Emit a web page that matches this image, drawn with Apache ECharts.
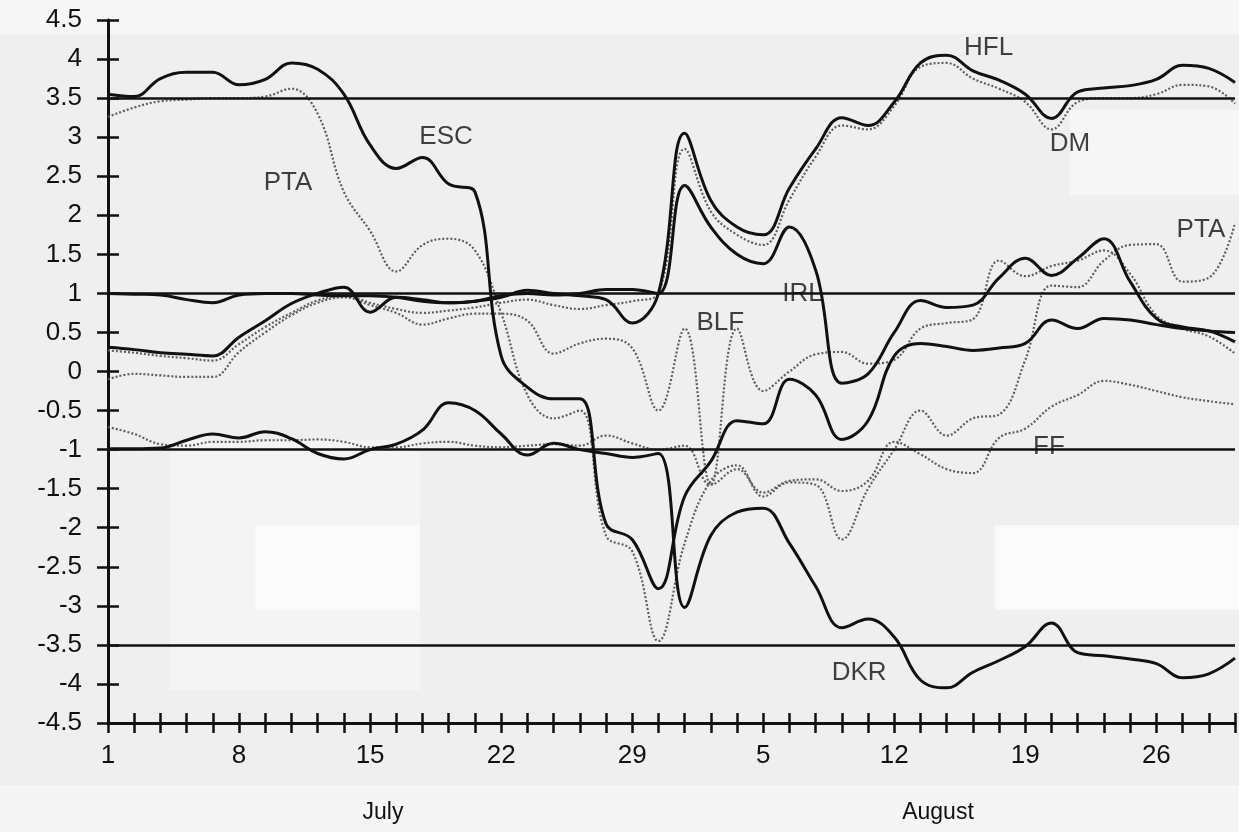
<!DOCTYPE html>
<html>
<head>
<meta charset="utf-8">
<title>Divergence, July - August</title>
<script src="https://cdn.jsdelivr.net/npm/echarts@6/dist/echarts.min.js"></script>
<style>
html, body { margin: 0; padding: 0; background: #efefef; }
#chart { width: 1239px; height: 832px; }
</style>
</head>
<body>
<div id="chart"></div>
<script>
// x axis = trading days (0 = 1 July), labels on Mondays only
const weekLabels = ['1', '8', '15', '22', '29', '5', '12', '19', '26']
const months = ['July', 'August']
const refLevels = [3.5, 1, -1, -3.5]

// solid lines
const esc = [3.55, 3.52, 3.75, 3.83, 3.83, 3.67, 3.74, 3.95, 3.87, 3.55,
    2.9, 2.6, 2.74, 2.4, 2.3, 0.2, -0.2, -0.35, -0.35, -1.95,
    -2.15, -2.78, -1.6, -1.15, -0.63, -0.67, -0.1, -0.3, -0.87, -0.63,
    0.2, 0.36, 0.32, 0.27, 0.3, 0.36, 0.66, 0.55, 0.68, 0.66,
    0.6, 0.55, 0.52, 0.5]
const hfl = [0.31, 0.28, 0.24, 0.22, 0.2, 0.44, 0.65, 0.87, 1.0, 1.08,
    0.76, 0.95, 0.92, 0.88, 0.9, 0.95, 1.04, 1.0, 0.97, 0.92,
    0.62, 1.0, 3.05, 2.19, 1.85, 1.75, 2.35, 2.85, 3.25, 3.15,
    3.45, 3.95, 4.05, 3.85, 3.73, 3.55, 3.24, 3.58, 3.63, 3.66,
    3.74, 3.92, 3.88, 3.7]
const irl = [1.0, 0.99, 0.98, 0.92, 0.88, 0.98, 1.0, 1.0, 0.98, 0.97,
    0.97, 0.95, 0.9, 0.88, 0.9, 0.97, 1.0, 0.98, 1.0, 1.05,
    1.05, 1.0, 2.38, 1.85, 1.5, 1.38, 1.85, 1.3, -0.15, -0.03,
    0.5, 0.91, 0.82, 0.85, 1.2, 1.45, 1.23, 1.45, 1.7, 1.15,
    0.68, 0.57, 0.52, 0.38]
const dkr = [-0.99, -0.99, -0.98, -0.88, -0.8, -0.85, -0.77, -0.86, -1.05, -1.12,
    -1.0, -0.93, -0.75, -0.4, -0.5, -0.8, -1.07, -0.92, -1.0, -1.05,
    -1.1, -1.05, -3.02, -2.1, -1.8, -1.75, -2.2, -2.75, -3.28, -3.17,
    -3.4, -3.95, -4.05, -3.85, -3.7, -3.52, -3.22, -3.6, -3.64, -3.68,
    -3.74, -3.92, -3.87, -3.67]

// dotted lines
const pta = [3.26, 3.38, 3.46, 3.48, 3.5, 3.5, 3.52, 3.62, 3.3, 2.3,
    1.8, 1.28, 1.62, 1.7, 1.55, 0.75, -0.3, -0.6, -0.5, -2.1,
    -2.3, -3.45, -2.2, -1.4, -1.2, -1.6, -1.42, -1.45, -2.15, -1.5,
    -1.0, -0.5, -0.82, -0.6, -0.55, 0.15, 1.1, 1.08, 1.42, 1.62,
    1.63, 1.15, 1.2, 1.9]
const dm = [0.27, 0.24, 0.2, 0.17, 0.14, 0.35, 0.57, 0.75, 0.91, 0.97,
    0.88, 0.8, 0.75, 0.78, 0.82, 0.88, 0.92, 0.85, 0.8, 0.85,
    0.9, 1.0, 2.85, 2.05, 1.75, 1.62, 2.2, 2.75, 3.15, 3.1,
    3.4, 3.9, 3.95, 3.75, 3.62, 3.45, 3.1, 3.45, 3.5, 3.5,
    3.55, 3.67, 3.65, 3.43]
const blf = [-0.1, -0.03, -0.05, -0.07, -0.07, 0.25, 0.5, 0.72, 0.88, 0.95,
    0.85, 0.75, 0.6, 0.68, 0.74, 0.74, 0.65, 0.23, 0.36, 0.42,
    0.3, -0.5, 0.55, -1.45, 0.55, -0.25, 0.0, 0.22, 0.25, 0.1,
    0.15, 0.55, 0.62, 0.67, 1.42, 1.22, 1.35, 1.42, 1.55, 1.25,
    0.72, 0.55, 0.45, 0.23]
const ff = [-0.71, -0.8, -0.93, -0.95, -0.9, -0.9, -0.88, -0.88, -0.87, -0.9,
    -0.97, -0.97, -0.92, -0.9, -0.95, -0.97, -0.95, -0.93, -0.95, -0.82,
    -0.92, -1.0, -0.95, -1.45, -1.25, -1.55, -1.4, -1.38, -1.53, -1.4,
    -0.9, -1.06, -1.25, -1.3, -0.85, -0.73, -0.45, -0.3, -0.12, -0.17,
    -0.25, -0.33, -0.38, -0.42]

// curve names written on the plot: [text, day index, value]
const curveLabels = [
    ['HFL', 33.6, 4.15], ['ESC', 12.9, 3.01], ['PTA', 6.87, 2.41],
    ['DM', 36.7, 2.91], ['PTA', 41.7, 1.81], ['IRL', 26.5, 0.99],
    ['BLF', 23.36, 0.62], ['FF', 35.9, -0.97], ['DKR', 28.66, -3.86]
]

const FONT = 'Liberation Sans'
const INK = '#111'

const chart = echarts.init(document.getElementById('chart'))

function solid(name, values) {
    return {
        name: name,
        type: 'line',
        data: values.map((v, i) => [i, v]),
        smooth: 0.4,
        symbol: 'none',
        lineStyle: { color: INK, width: 3 },
        z: 3
    }
}

function dotted(name, values) {
    return {
        name: name,
        type: 'line',
        data: values.map((v, i) => [i, v]),
        smooth: 0.4,
        symbol: 'none',
        lineStyle: { color: '#5e5e5e', width: 2.2, type: [2, 2] },
        z: 2
    }
}

const lastDay = esc.length - 1

const xCommon = {
    type: 'value',
    min: 0,
    max: lastDay,
    interval: 1,
    position: 'bottom',
    offset: 0,
    splitLine: { show: false }
}
const yCommon = {
    type: 'value',
    min: -4.5,
    max: 4.5,
    interval: 0.5,
    position: 'left',
    offset: 0,
    splitLine: { show: false }
}

chart.setOption({
    animation: false,
    backgroundColor: '#efefef',
    grid: {
        left: 108,
        right: 4,
        top: 20,
        bottom: 109,
        containLabel: false,
        outerBoundsMode: 'none'
    },
    xAxis: [
        Object.assign({}, xCommon, {
            axisLine: { show: true, onZero: false, lineStyle: { color: INK, width: 3 } },
            axisTick: { show: true, length: 10, lineStyle: { color: INK, width: 2.5 } },
            axisLabel: {
                margin: 20,
                fontSize: 26,
                fontFamily: FONT,
                color: INK,
                formatter: function(v) {
                    return v % 5 === 0 ? (weekLabels[v / 5] || '') : ''
                }
            }
        }),
        Object.assign({}, xCommon, {
            axisLine: { show: false, onZero: false },
            axisTick: { show: true, inside: true, length: 10, lineStyle: { color: INK, width: 2.5 } },
            axisLabel: { show: false }
        })
    ],
    yAxis: [
        Object.assign({}, yCommon, {
            axisLine: { show: true, onZero: false, lineStyle: { color: INK, width: 3 } },
            axisTick: { show: true, length: 11, lineStyle: { color: INK, width: 2.5 } },
            axisLabel: { margin: 26, fontSize: 26, fontFamily: FONT, color: INK }
        }),
        Object.assign({}, yCommon, {
            axisLine: { show: false, onZero: false },
            axisTick: { show: true, inside: true, length: 11, lineStyle: { color: INK, width: 2.5 } },
            axisLabel: { show: false }
        })
    ],
    graphic: [
        // lighter patches of the scanned halftone background
        { type: 'rect', z: -10, shape: { x: 0, y: 0, width: 1239, height: 34 }, style: { fill: '#f6f6f6' } },
        { type: 'rect', z: -10, shape: { x: 170, y: 440, width: 250, height: 250 }, style: { fill: '#f4f4f4' } },
        { type: 'rect', z: -10, shape: { x: 255, y: 525, width: 165, height: 85 }, style: { fill: '#fafafa' } },
        { type: 'rect', z: -10, shape: { x: 995, y: 525, width: 244, height: 85 }, style: { fill: '#f9f9f9' } },
        { type: 'rect', z: -10, shape: { x: 1070, y: 110, width: 169, height: 85 }, style: { fill: '#f6f6f6' } },
        { type: 'rect', z: -10, shape: { x: 0, y: 785, width: 1239, height: 47 }, style: { fill: '#f5f5f5' } },
        {
            type: 'text', x: 383, y: 813,
            style: { text: months[0], font: '23px "' + FONT + '"', fill: INK, textAlign: 'center', textVerticalAlign: 'middle' }
        },
        {
            type: 'text', x: 938, y: 813,
            style: { text: months[1], font: '23px "' + FONT + '"', fill: INK, textAlign: 'center', textVerticalAlign: 'middle' }
        }
    ],
    series: [
        Object.assign(dotted('PTA', pta), {
            markLine: {
                silent: true,
                symbol: 'none',
                label: { show: false },
                lineStyle: { color: INK, width: 2.5, type: 'solid' },
                data: refLevels.map(v => ({ yAxis: v }))
            }
        }),
        dotted('DM', dm),
        dotted('BLF', blf),
        dotted('FF', ff),
        solid('ESC', esc),
        solid('HFL', hfl),
        solid('IRL', irl),
        solid('DKR', dkr),
        {
            name: 'labels',
            type: 'scatter',
            symbolSize: 0,
            silent: true,
            z: 5,
            data: curveLabels.map(l => ({ name: l[0], value: [l[1], l[2]] })),
            label: {
                show: true,
                position: 'inside',
                formatter: '{b}',
                fontSize: 26,
                fontFamily: FONT,
                color: INK,
                textBorderWidth: 0
            }
        }
    ]
})
</script>
</body>
</html>
